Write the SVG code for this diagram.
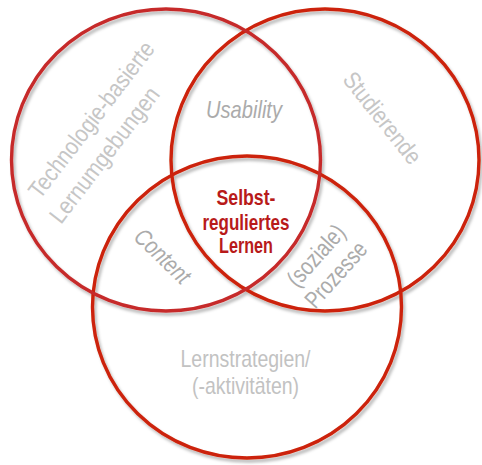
<svg xmlns="http://www.w3.org/2000/svg" width="482" height="465" viewBox="0 0 482 465">
  <style>
    .ring { fill: none; stroke-width: 3.4; }
    .ring-a { stroke: #c62a2a; }
    .ring-b { stroke: #cc2208; }
    .lbl { font-family: "Liberation Sans Narrow", "Arial Narrow", "Liberation Sans", Arial, sans-serif; }
    .outer { fill: #c6c6c6; font-size: 24px; }
    .inner { fill: #ababab; font-size: 24px; }
    .base { fill: #c2c2c2; font-size: 24px; }
    .core { fill: #b81a1a; font-size: 21.5px; font-weight: bold; }
  </style>
  <defs>
    <filter id="soft-shadow" x="-10%" y="-10%" width="125%" height="125%">
      <feDropShadow dx="2" dy="3" stdDeviation="1.6" flood-color="#000" flood-opacity="0.28"/>
    </filter>
  </defs>

  <rect width="482" height="465" fill="#ffffff"/>

  <!-- three overlapping rings -->
  <g id="rings" filter="url(#soft-shadow)">
    <ellipse id="ring-lernstrategien" class="ring ring-b" cx="247" cy="307" rx="154.5" ry="151"/>
    <ellipse id="ring-studierende" class="ring ring-b" cx="325" cy="160" rx="154" ry="151"/>
    <ellipse id="ring-technologie" class="ring ring-a" cx="166" cy="160" rx="154.5" ry="151"/>
  </g>

  <!-- set labels -->
  <g id="node-technologie" class="lbl outer">
    <text transform="translate(40 200) rotate(-52.5)" textLength="190" lengthAdjust="spacingAndGlyphs">Technologie-basierte</text>
    <text transform="translate(61 225) rotate(-52.5)" textLength="164" lengthAdjust="spacingAndGlyphs">Lernumgebungen</text>
  </g>

  <g id="node-studierende" class="lbl outer">
    <text transform="translate(376 123) rotate(51.5)" text-anchor="middle" textLength="110" lengthAdjust="spacingAndGlyphs">Studierende</text>
  </g>

  <g id="node-lernstrategien" class="lbl base" text-anchor="middle">
    <text x="245.5" y="367" textLength="130" lengthAdjust="spacingAndGlyphs">Lernstrategien/</text>
    <text x="245.5" y="394" textLength="107" lengthAdjust="spacingAndGlyphs">(-aktivitäten)</text>
  </g>

  <!-- pairwise overlaps -->
  <g id="node-usability" class="lbl inner">
    <text x="244" y="118" text-anchor="middle" font-style="italic" textLength="76" lengthAdjust="spacingAndGlyphs">Usability</text>
  </g>

  <g id="node-content" class="lbl inner">
    <text transform="translate(157 262) rotate(44)" text-anchor="middle" font-style="italic" textLength="68" lengthAdjust="spacingAndGlyphs">Content</text>
  </g>

  <g id="node-prozesse" class="lbl inner">
    <text transform="translate(322 261) rotate(-48)" text-anchor="middle" textLength="74" lengthAdjust="spacingAndGlyphs">(soziale)</text>
    <text transform="translate(342 280) rotate(-48)" text-anchor="middle" textLength="80" lengthAdjust="spacingAndGlyphs">Prozesse</text>
  </g>

  <!-- centre: all three overlap -->
  <g id="node-selbstreguliert" class="lbl core" text-anchor="middle">
    <text x="246" y="205" textLength="59" lengthAdjust="spacingAndGlyphs">Selbst-</text>
    <text x="246" y="229.5" textLength="87" lengthAdjust="spacingAndGlyphs">reguliertes</text>
    <text x="246" y="253" textLength="54" lengthAdjust="spacingAndGlyphs">Lernen</text>
  </g>

  <g id="connectors"></g>
</svg>
